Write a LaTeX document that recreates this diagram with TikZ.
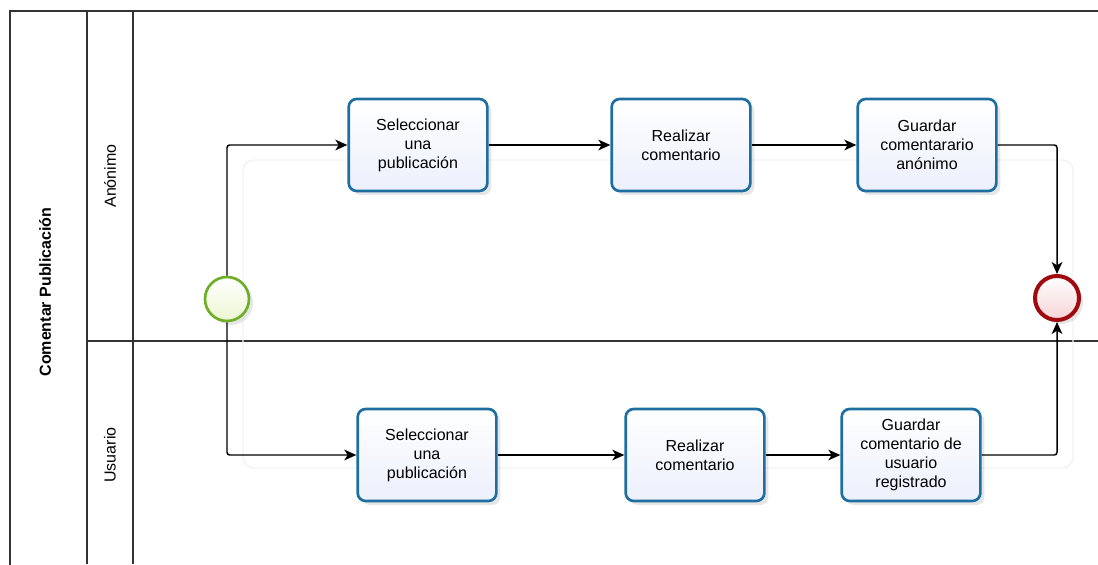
\documentclass[tikz,border=0pt]{standalone}
\usepackage{fontspec}
\setmainfont{Liberation Sans}
\usetikzlibrary{shadows,arrows.meta}
\definecolor{bordeTarea}{RGB}{30,110,160}
\definecolor{fondoTarea}{RGB}{236,240,252}
\definecolor{bordeInicio}{RGB}{110,175,40}
\definecolor{fondoInicio}{RGB}{236,246,210}
\definecolor{bordeFin}{RGB}{160,10,15}
\definecolor{fondoFin}{RGB}{246,212,214}
\begin{document}
\begin{tikzpicture}[>={Stealth[length=9pt,width=8pt,inset=2.5pt]},x=0.75pt,y=-0.75pt,
	tarea/.style={draw=bordeTarea,line width=2pt,rounded corners=6pt,
		top color=white,bottom color=fondoTarea,
		minimum width=104pt,minimum height=69pt,align=center,
		font=\fontsize{12}{14.25}\selectfont,
		drop shadow={opacity=0.2,shadow xshift=3pt,shadow yshift=-3pt}},
	evento/.style={circle,minimum size=33pt,inner sep=0pt,
		drop shadow={opacity=0.2,shadow xshift=3pt,shadow yshift=-3pt}},
	flujo/.style={->,line width=1.1pt,rounded corners=2pt},
	marco/.style={draw=black!80,line width=1pt}]
	\useasboundingbox (0,0) rectangle (1098,564);
	\clip (0,0) rectangle (1098,564);
	% pool y carriles
	\draw[marco] (10,11) rectangle (1110,580);
	\draw[marco] (87,11) -- (87,564);
	\draw[marco] (133,11) -- (133,564);
	\draw[marco] (87,341) -- (1098,341);
	\node[rotate=90,font=\bfseries\fontsize{12}{14}\selectfont] (pool) at (45,292) {Comentar Publicación};
	\node[rotate=90,font=\fontsize{12}{14}\selectfont] (anon) at (110,176) {Anónimo};
	\node[rotate=90,font=\fontsize{12}{14}\selectfont] (usu) at (110,455) {Usuario};
	% rectangulo tenue de fondo
	\draw[black!5,line width=1pt,rounded corners=8pt] (243,160) rectangle (1073,468);
	% eventos
	\node[evento,draw=bordeInicio,line width=2pt,top color=white,bottom color=fondoInicio] (inicio) at (227,299) {};
	\node[evento,draw=bordeFin,line width=3pt,top color=white,bottom color=fondoFin] (fin) at (1057,298) {};
	% tareas
	\node[tarea] (selAnon) at (418,145) {Seleccionar\\una\\publicación};
	\node[tarea] (realAnon) at (681,145) {Realizar\\comentario};
	\node[tarea] (guardAnon) at (927,145) {Guardar\\comentarario\\anónimo};
	\node[tarea] (selUsu) at (427,455) {Seleccionar\\una\\publicación};
	\node[tarea] (realUsu) at (695,455) {Realizar\\comentario};
	\node[tarea] (guardUsu) at (911,455) {Guardar\\comentario de\\usuario\\registrado};
	% flujos
	\draw[flujo] (inicio.north) |- (selAnon.west);
	\draw[flujo] (inicio.south) |- (selUsu.west);
	\draw[flujo] (selAnon) -- (realAnon);
	\draw[flujo] (realAnon) -- (guardAnon);
	\draw[flujo] (selUsu) -- (realUsu);
	\draw[flujo] (realUsu) -- (guardUsu);
	\draw[flujo] (guardAnon.east) -| (fin.north);
	\draw[flujo] (guardUsu.east) -| (fin.south);
\end{tikzpicture}
\end{document}
